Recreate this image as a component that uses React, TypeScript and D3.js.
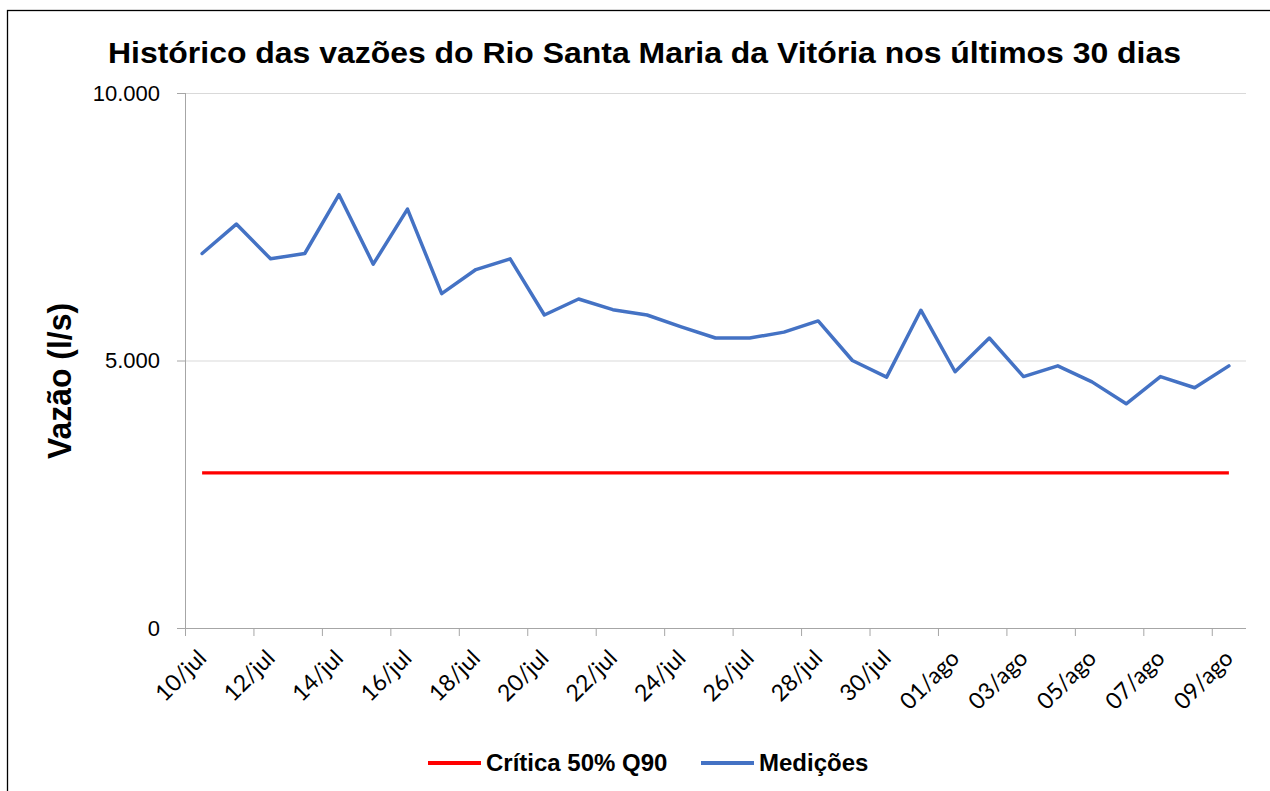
import React, { useEffect, useRef } from 'react'
import * as d3 from 'd3'

// dias (categorias do eixo x)
const dias = [
  '10/jul', '11/jul', '12/jul', '13/jul', '14/jul', '15/jul', '16/jul', '17/jul',
  '18/jul', '19/jul', '20/jul', '21/jul', '22/jul', '23/jul', '24/jul', '25/jul',
  '26/jul', '27/jul', '28/jul', '29/jul', '30/jul', '31/jul', '01/ago', '02/ago',
  '03/ago', '04/ago', '05/ago', '06/ago', '07/ago', '08/ago', '09/ago',
]

// vazões medidas (l/s)
const medicoes = [
  7000, 7550, 6900, 7000, 8100, 6800, 7830, 6250, 6700, 6900, 5850, 6150,
  5950, 5850, 5630, 5420, 5420, 5530, 5740, 5000, 4690, 5940, 4790, 5420,
  4700, 4900, 4600, 4190, 4700, 4490, 4900,
]

// vazão crítica (50% da Q90)
const critica = dias.map(() => 2900)

const yTicks = [0, 5000, 10000]

const titulo = 'Histórico das vazões do Rio Santa Maria da Vitória nos últimos 30 dias'

const W = 1270
const H = 791
const margin = { top: 93, right: 24, bottom: 163, left: 185 }

const fmt = (v: number) => d3.format(',')(v).replace(/,/g, '.')

const App: React.FC = () => {
  const svgRef = useRef<SVGSVGElement | null>(null)

  useEffect(() => {
    if (!svgRef.current) return
    const svg = d3.select(svgRef.current)
    svg.selectAll('*').remove()

    const x = d3
      .scaleBand<string>()
      .domain(dias)
      .range([margin.left, W - margin.right])
      .paddingInner(0)
      .paddingOuter(0)
    const cx = (d: string) => x(d)! + x.bandwidth() / 2

    const y = d3
      .scaleLinear()
      .domain([0, 10000])
      .range([H - margin.bottom, margin.top])

    // borda
    svg
      .append('rect')
      .attr('x', 7.5)
      .attr('y', 10.5)
      .attr('width', 1400)
      .attr('height', 1000)
      .attr('fill', 'white')
      .attr('stroke', '#000')
      .attr('stroke-width', 1.3)

    // título
    svg
      .append('text')
      .attr('x', 644.5)
      .attr('y', 63)
      .attr('text-anchor', 'middle')
      .attr('font-family', '"Liberation Sans", Arial, sans-serif')
      .attr('font-weight', 'bold')
      .attr('font-size', 29)
      .attr('textLength', 1073)
      .attr('lengthAdjust', 'spacingAndGlyphs')
      .text(titulo)

    // grade
    svg
      .append('g')
      .selectAll('line')
      .data(yTicks.filter((t) => t > 0))
      .join('line')
      .attr('x1', margin.left)
      .attr('x2', W - margin.right)
      .attr('y1', (d) => y(d) + 0.5)
      .attr('y2', (d) => y(d) + 0.5)
      .attr('stroke', '#d9d9d9')
      .attr('stroke-width', 1)

    // eixo y
    const axisColor = '#a6a6a6'
    svg
      .append('line')
      .attr('x1', margin.left + 0.5)
      .attr('x2', margin.left + 0.5)
      .attr('y1', y(10000))
      .attr('y2', y(0))
      .attr('stroke', axisColor)
    svg
      .append('g')
      .selectAll('line')
      .data(yTicks)
      .join('line')
      .attr('x1', margin.left - 8)
      .attr('x2', margin.left)
      .attr('y1', (d) => y(d) + 0.5)
      .attr('y2', (d) => y(d) + 0.5)
      .attr('stroke', axisColor)
    svg
      .append('g')
      .selectAll('text')
      .data(yTicks)
      .join('text')
      .attr('x', 160)
      .attr('y', (d) => y(d))
      .attr('dy', '0.35em')
      .attr('text-anchor', 'end')
      .attr('font-family', '"Liberation Sans", Arial, sans-serif')
      .attr('font-size', 22)
      .attr('fill', '#000')
      .text((d) => fmt(d))

    // título eixo y
    svg
      .append('text')
      .attr('transform', `translate(71, 381) rotate(-90)`)
      .attr('text-anchor', 'middle')
      .attr('font-family', '"Liberation Sans", Arial, sans-serif')
      .attr('font-weight', 'bold')
      .attr('font-size', 34)
      .attr('textLength', 156)
      .attr('lengthAdjust', 'spacingAndGlyphs')
      .text('Vazão (l/s)')

    // eixo x
    svg
      .append('line')
      .attr('x1', margin.left)
      .attr('x2', W - margin.right)
      .attr('y1', y(0) + 0.5)
      .attr('y2', y(0) + 0.5)
      .attr('stroke', axisColor)
    const tickDias = dias.filter((_, i) => i % 2 === 0)
    svg
      .append('g')
      .selectAll('line')
      .data(tickDias)
      .join('line')
      .attr('x1', (d) => x(d)! + 0.5)
      .attr('x2', (d) => x(d)! + 0.5)
      .attr('y1', y(0))
      .attr('y2', y(0) + 8)
      .attr('stroke', axisColor)
    svg
      .append('g')
      .selectAll('text')
      .data(tickDias)
      .join('text')
      .attr('transform', (d) => `translate(${cx(d)}, ${y(0) + 26}) rotate(-45)`)
      .attr('dy', '0.35em')
      .attr('text-anchor', 'end')
      .attr('font-family', 'Lato, "Open Sans", sans-serif')
      .attr('font-size', 23)
      .attr('fill', '#000')
      .text((d) => d)

    const line = d3
      .line<number>()
      .x((_, i) => cx(dias[i]))
      .y((d) => y(d))

    // crítica
    svg
      .append('path')
      .datum(critica)
      .attr('d', line)
      .attr('fill', 'none')
      .attr('stroke', '#ff0000')
      .attr('stroke-width', 3.2)

    // medições
    svg
      .append('path')
      .datum(medicoes)
      .attr('d', line)
      .attr('fill', 'none')
      .attr('stroke', '#4472c4')
      .attr('stroke-width', 3.5)
      .attr('stroke-linejoin', 'round')
      .attr('stroke-linecap', 'round')

    // legenda
    const legend = [
      { label: 'Crítica 50% Q90', color: '#ff0000', x: 428 },
      { label: 'Medições', color: '#4472c4', x: 701 },
    ]
    const lg = svg.append('g')
    legend.forEach((l) => {
      lg.append('line')
        .attr('x1', l.x)
        .attr('x2', l.x + 53)
        .attr('y1', 763)
        .attr('y2', 763)
        .attr('stroke', l.color)
        .attr('stroke-width', 4)
      lg.append('text')
        .attr('x', l.x + 58)
        .attr('y', 763)
        .attr('dy', '0.35em')
        .attr('font-family', '"Liberation Sans", Arial, sans-serif')
        .attr('font-weight', 'bold')
        .attr('font-size', 24)
        .text(l.label)
    })
  }, [])

  return (
    <svg
      ref={svgRef}
      width={W}
      height={H}
      style={{ position: 'absolute', left: 0, top: 0, background: 'white' }}
    ></svg>
  )
}

export default App
